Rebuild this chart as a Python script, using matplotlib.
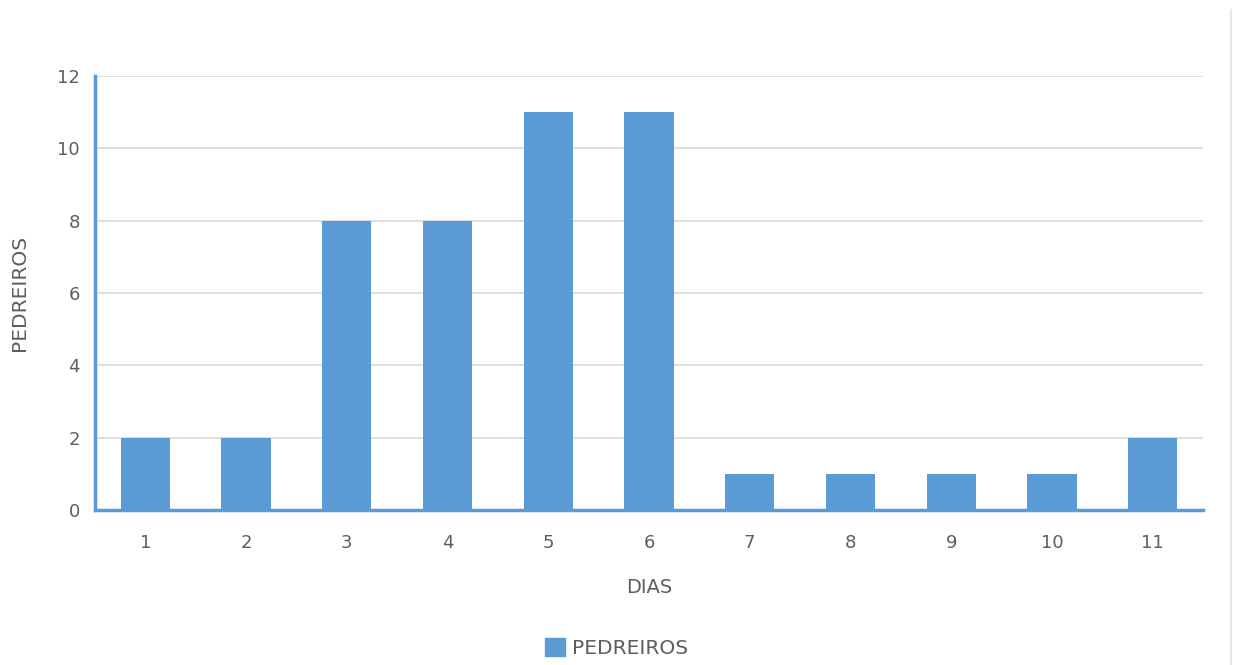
import matplotlib
matplotlib.use("Agg")
import matplotlib.pyplot as plt
from matplotlib.patches import Rectangle
from matplotlib.lines import Line2D

days = ["1", "2", "3", "4", "5", "6", "7", "8", "9", "10", "11"]
pedreiros = [2, 2, 8, 8, 11, 11, 1, 1, 1, 1, 2]
y_ticks = [0, 2, 4, 6, 8, 10, 12]

BAR = "#5B9BD5"
TXT = "#5E5E5E"

plt.rcParams["font.family"] = ["DejaVu Sans"]

fig = plt.figure(figsize=(12.33, 6.65), dpi=100)
ax = fig.add_axes([0.077, 0.233, 0.8987, 0.6527])

x = list(range(len(days)))
ax.bar(x, pedreiros, width=0.49, color=BAR, zorder=3, label="PEDREIROS")

ax.set_xlim(-0.5, len(days) - 0.5)
ax.set_ylim(0, 12)
ax.set_yticks(y_ticks)
ax.set_xticks(x)
ax.set_xticklabels(days)
ax.tick_params(axis="both", length=0, labelsize=13, colors=TXT)
ax.tick_params(axis="y", pad=11)
ax.tick_params(axis="x", pad=17)

ax.yaxis.grid(True, color="#D9D9D9", linewidth=1.2, zorder=0)
ax.set_axisbelow(True)

for s in ("top", "right"):
    ax.spines[s].set_visible(False)
for s in ("left", "bottom"):
    ax.spines[s].set_color(BAR)
    ax.spines[s].set_linewidth(2.5)
    ax.spines[s].set_zorder(4)

ax.set_xlabel("DIAS", fontsize=14, color=TXT, labelpad=19)
ax.set_ylabel("PEDREIROS", fontsize=14.5, color=TXT, labelpad=20)

leg = fig.legend(handles=[Rectangle((0, 0), 1, 1, color=BAR)], labels=["PEDREIROS"],
                 loc="center", bbox_to_anchor=(0.5, 0.026), frameon=False,
                 fontsize=14.5, handlelength=1.0, handleheight=1.0, handletextpad=0.3)
for t in leg.get_texts():
    t.set_color(TXT)

# thin frame edge on the right side
fig.add_artist(Line2D([0.9985, 0.9985], [0.0, 0.985], transform=fig.transFigure,
                      color="#E6E6E6", linewidth=1.5))

fig.savefig("out.png", dpi=100, facecolor="white")
